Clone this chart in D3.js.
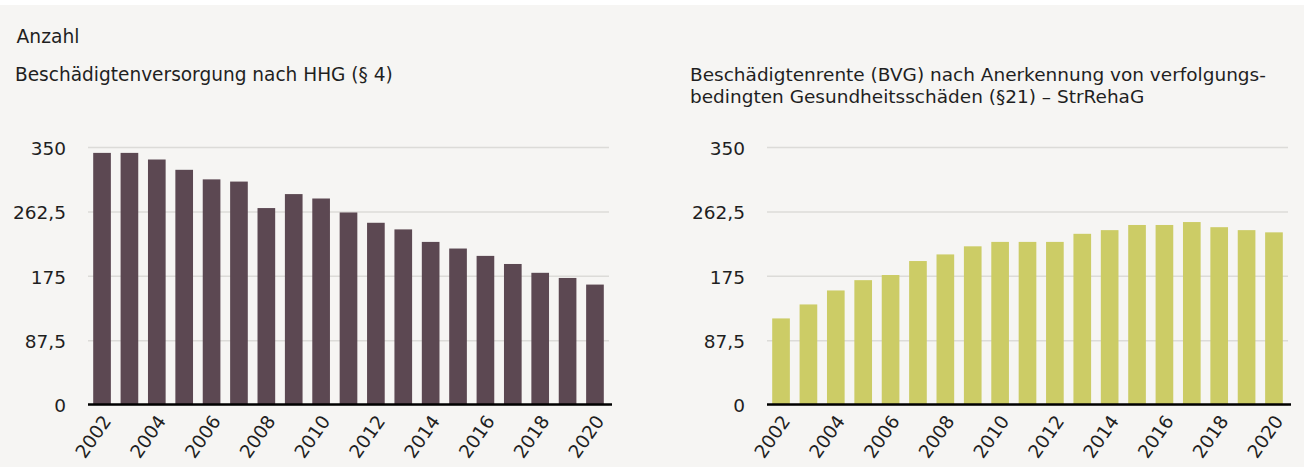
<!DOCTYPE html>
<html>
<head>
<meta charset="utf-8">
<script src="https://cdn.jsdelivr.net/npm/d3@7"></script>
<style>
  html, body { margin: 0; padding: 0; background: #ffffff; }
  #chart { width: 1304px; height: 467px; }
  text { font-family: "DejaVu Sans", "Noto Sans", sans-serif; fill: #1f1f1f; }
</style>
</head>
<body>
<div id="chart"></div>
<script>
// values
var years = [2002, 2003, 2004, 2005, 2006, 2007, 2008, 2009, 2010, 2011,
             2012, 2013, 2014, 2015, 2016, 2017, 2018, 2019, 2020];
var hhgValues = [342, 342, 333, 319, 306, 303, 267, 286, 280, 261,
                 247, 238, 221, 212, 202, 191, 179, 172, 163];
var strRehaValues = [117, 136, 155, 169, 176, 195, 204, 215, 221, 221,
                     221, 232, 237, 244, 244, 248, 241, 237, 234];
var yTicks = [0, 87.5, 175, 262.5, 350];
var xTickYears = [2002, 2004, 2006, 2008, 2010, 2012, 2014, 2016, 2018, 2020];
var unitLabel = "Anzahl";
var leftTitle = ["Beschädigtenversorgung nach HHG (§ 4)"];
var rightTitle = ["Beschädigtenrente (BVG) nach Anerkennung von verfolgungs-",
                  "bedingten Gesundheitsschäden (§21) – StrRehaG"];

var W = 1304, H = 467;

var svg = d3.select("#chart").append("svg")
    .attr("width", W)
    .attr("height", H);

// background (thin white strip on top)
svg.append("rect")
    .attr("x", 0).attr("y", 5)
    .attr("width", W).attr("height", H - 5)
    .attr("fill", "#f6f5f3");

// fit a text to the width it has in the reference
function fitWidth(sel, target) {
  var w = sel.node().getComputedTextLength();
  var fs = parseFloat(sel.style("font-size"));
  sel.style("font-size", (fs * target / w).toFixed(2) + "px");
}

var unit = svg.append("text")
    .attr("x", 16.5).attr("y", 42.5)
    .style("font-size", "16px")
    .text(unitLabel);
fitWidth(unit, 63);

var fmt = function(d) { return String(d).replace(".", ","); };

function drawPanel(x0, titleX, titleLines, titleWidth, values, color) {
  var plot = {left: x0, right: x0 + 521, top: 147, bottom: 404.5};

  var x = d3.scaleBand()
      .domain(years)
      .range([plot.left, plot.right])
      .paddingInner(0.355)
      .paddingOuter(0.19);
  var y = d3.scaleLinear()
      .domain([0, 350])
      .range([plot.bottom, plot.top]);

  // title
  var t = svg.append("text")
      .attr("x", titleX)
      .attr("y", 81)
      .style("font-size", "16px");
  t.selectAll("tspan")
      .data(titleLines)
      .enter().append("tspan")
      .attr("x", titleX)
      .attr("dy", function(d, i) { return i === 0 ? 0 : 22; })
      .text(function(d) { return d; });
  var fw = t.select("tspan").node().getComputedTextLength();
  t.style("font-size", (16 * titleWidth / fw).toFixed(2) + "px");

  // grid + y labels
  var yAxis = svg.append("g")
      .attr("transform", "translate(" + plot.left + ",0)")
      .call(d3.axisLeft(y).tickValues(yTicks).tickFormat(fmt)
            .tickSize(-(plot.right - plot.left)).tickPadding(22));
  yAxis.select(".domain").remove();
  yAxis.selectAll(".tick line")
      .attr("stroke", "#dcdbd8")
      .attr("stroke-width", 1.5);
  yAxis.selectAll(".tick text")
      .attr("fill", "#1f1f1f")
      .attr("dy", "0.4em")
      .style("font-size", "18.5px")
      .style("font-family", "'DejaVu Sans', sans-serif");

  // bars
  svg.append("g").selectAll("rect")
      .data(values)
      .enter().append("rect")
      .attr("x", function(d, i) { return x(years[i]); })
      .attr("y", function(d) { return y(d); })
      .attr("width", x.bandwidth())
      .attr("height", function(d) { return y(0) - y(d); })
      .attr("fill", color);

  // baseline
  svg.append("line")
      .attr("x1", plot.left).attr("x2", plot.right + 3)
      .attr("y1", y(0)).attr("y2", y(0))
      .attr("stroke", "#000")
      .attr("stroke-width", 2.5);

  // rotated year labels
  svg.append("g").selectAll("text")
      .data(xTickYears)
      .enter().append("text")
      .attr("text-anchor", "end")
      .attr("transform", function(d) {
        var cx = x(d) + x.bandwidth() / 2;
        return "translate(" + (cx + 10) + "," + 421 + ") rotate(-55)";
      })
      .style("font-size", "18.5px")
      .text(function(d) { return d; });
}

drawPanel(88, 15, leftTitle, 378, hhgValues, "#5c4852");
drawPanel(767, 690, rightTitle, 576, strRehaValues, "#cccc66");
</script>
</body>
</html>
